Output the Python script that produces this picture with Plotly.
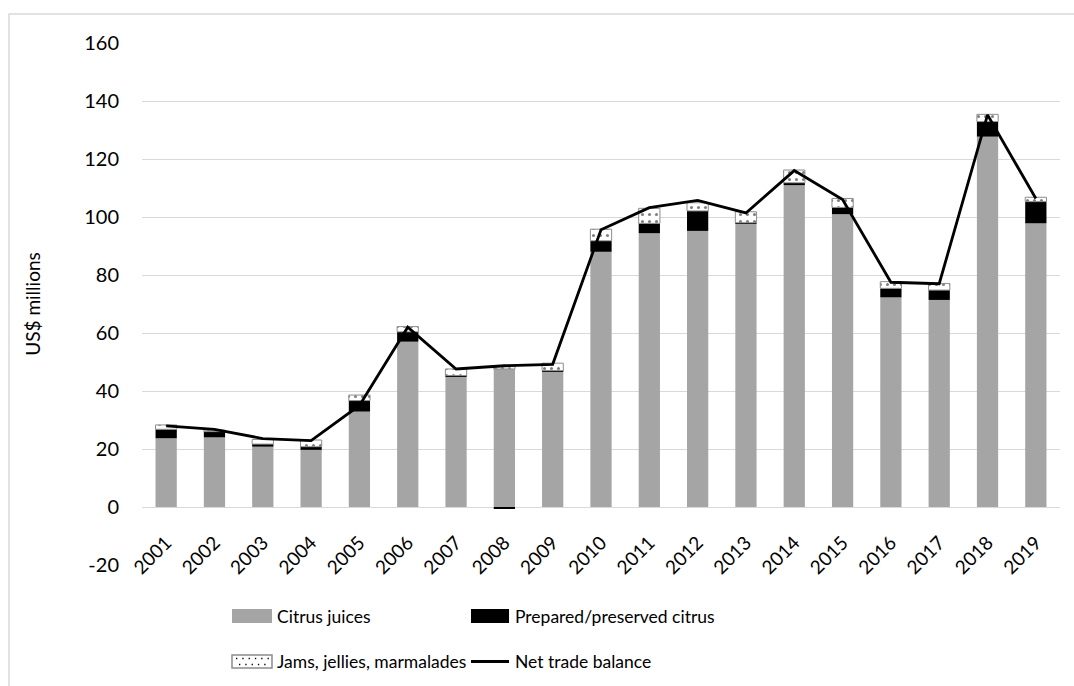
import plotly.graph_objects as go

years = [str(y) for y in range(2001, 2020)]
citrus_juices = [23.7, 24.0, 20.8, 19.7, 32.9, 57.0, 44.9, 47.6, 46.7, 88.0,
                 94.4, 95.2, 97.6, 111.0, 101.0, 72.3, 71.4, 127.7, 97.8]
prepared_citrus = [3.1, 2.0, 0.9, 1.1, 3.8, 3.4, 0.4, -0.4, 0.3, 3.8,
                   3.4, 6.9, 0.4, 0.8, 2.3, 3.1, 3.4, 5.2, 7.5]
jams_jellies = [1.5, 0.5, 1.6, 2.3, 1.9, 1.8, 2.3, 0.8, 2.6, 4.0,
                5.2, 2.8, 3.8, 4.4, 3.1, 2.3, 2.3, 2.5, 1.5]
net_trade_balance = [28.0, 26.8, 23.6, 22.9, 35.0, 62.0, 47.6, 48.7, 49.2, 95.6,
                     103.2, 105.7, 101.4, 116.0, 106.0, 77.5, 77.0, 135.2, 106.4]
y_ticks = [-20, 0, 20, 40, 60, 80, 100, 120, 140, 160]
y_tick_text = ["-20", "0", "20", "40", "60", "80", "100", "120", "140", "160"]

FONT = "Lato"
GRAY = "#a5a5a5"
GRID = "#d9d9d9"

fig = go.Figure()
fig.add_bar(x=years, y=citrus_juices, name="Citrus juices",
            marker=dict(color=GRAY, line=dict(width=0)), showlegend=False)
fig.add_bar(x=years, y=prepared_citrus, name="Prepared/preserved citrus",
            marker=dict(color="black", line=dict(width=0)), showlegend=False)
fig.add_bar(x=years, y=jams_jellies, name="Jams, jellies, marmalades",
            marker=dict(color="white", line=dict(color="#8c8c8c", width=1),
                        pattern=dict(shape=".", fgcolor="black", bgcolor="white",
                                     size=7, solidity=0.15)),
            showlegend=False)
fig.add_scatter(x=years, y=net_trade_balance, name="Net trade balance",
                mode="lines", line=dict(color="black", width=2.8),
                showlegend=False)

# Plot area: x 142..1060 px, y 43..565 px
L, R, T, B = 142, 1060, 43, 565
W, H = R - L, B - T


def px_x(p):
    return (p - L) / W


def px_y(p):
    return (B - p) / H


shapes = []
annotations = []

# Outer frame (left and top edges visible)
shapes.append(dict(type="rect", xref="paper", yref="paper",
                   x0=px_x(9), x1=px_x(1100), y0=px_y(14), y1=px_y(720),
                   line=dict(color=GRID, width=1.5), fillcolor="rgba(0,0,0,0)",
                   layer="below"))

# Legend swatches
shapes.append(dict(type="rect", xref="paper", yref="paper",
                   x0=px_x(232), x1=px_x(272), y0=px_y(623), y1=px_y(609),
                   fillcolor=GRAY, line=dict(width=0)))
shapes.append(dict(type="rect", xref="paper", yref="paper",
                   x0=px_x(471), x1=px_x(509), y0=px_y(623), y1=px_y(609),
                   fillcolor="black", line=dict(width=0)))
shapes.append(dict(type="rect", xref="paper", yref="paper",
                   x0=px_x(232), x1=px_x(272), y0=px_y(668), y1=px_y(655),
                   fillcolor="white", line=dict(color="#8c8c8c", width=1.5)))
for r, yy in enumerate([658.5, 664.5]):
    for c in range(6):
        xx = 236 + c * 6.3 + (3 if r else 0)
        if xx > 269:
            continue
        shapes.append(dict(type="rect", xref="paper", yref="paper",
                           x0=px_x(xx), x1=px_x(xx + 1.3),
                           y0=px_y(yy + 0.7), y1=px_y(yy - 0.7),
                           fillcolor="black", line=dict(width=0)))
shapes.append(dict(type="line", xref="paper", yref="paper",
                   x0=px_x(471), x1=px_x(509), y0=px_y(661.5), y1=px_y(661.5),
                   line=dict(color="black", width=2.8)))

legend_rows = [(616, "Citrus juices", "Prepared/preserved citrus"),
               (661, "Jams, jellies, marmalades", "Net trade balance")]
for yy, t1, t2 in legend_rows:
    for xx, t in ((275, t1), (513, t2)):
        annotations.append(dict(xref="paper", yref="paper", x=px_x(xx),
                                y=px_y(yy), text=t, showarrow=False,
                                xanchor="left", yanchor="middle",
                                font=dict(family=FONT, size=17.5, color="black")))

fig.update_layout(
    barmode="relative",
    bargap=0.56,
    width=1074, height=686,
    margin=dict(l=L, r=1074 - R, t=T, b=686 - B),
    plot_bgcolor="white", paper_bgcolor="white",
    font=dict(family=FONT, size=19, color="black"),
    shapes=shapes,
    annotations=annotations,
    xaxis=dict(type="category", tickangle=-45, showgrid=False, showline=False,
               ticks="", anchor="free", position=20 / 180,
               ticklabelstandoff=20,
               tickfont=dict(family=FONT, size=19, color="black")),
    yaxis=dict(range=[-20, 160], tickvals=y_ticks, ticktext=y_tick_text,
               showgrid=True, gridcolor=GRID, gridwidth=1.3, zeroline=True,
               zerolinecolor=GRID, zerolinewidth=1.3, showline=False,
               ticks="", ticklabelstandoff=22,
               tickfont=dict(family=FONT, size=20, color="black"),
               title=dict(text="US$ millions", standoff=38,
                          font=dict(family=FONT, size=19, color="black"))),
)

fig.write_html("out.html")
